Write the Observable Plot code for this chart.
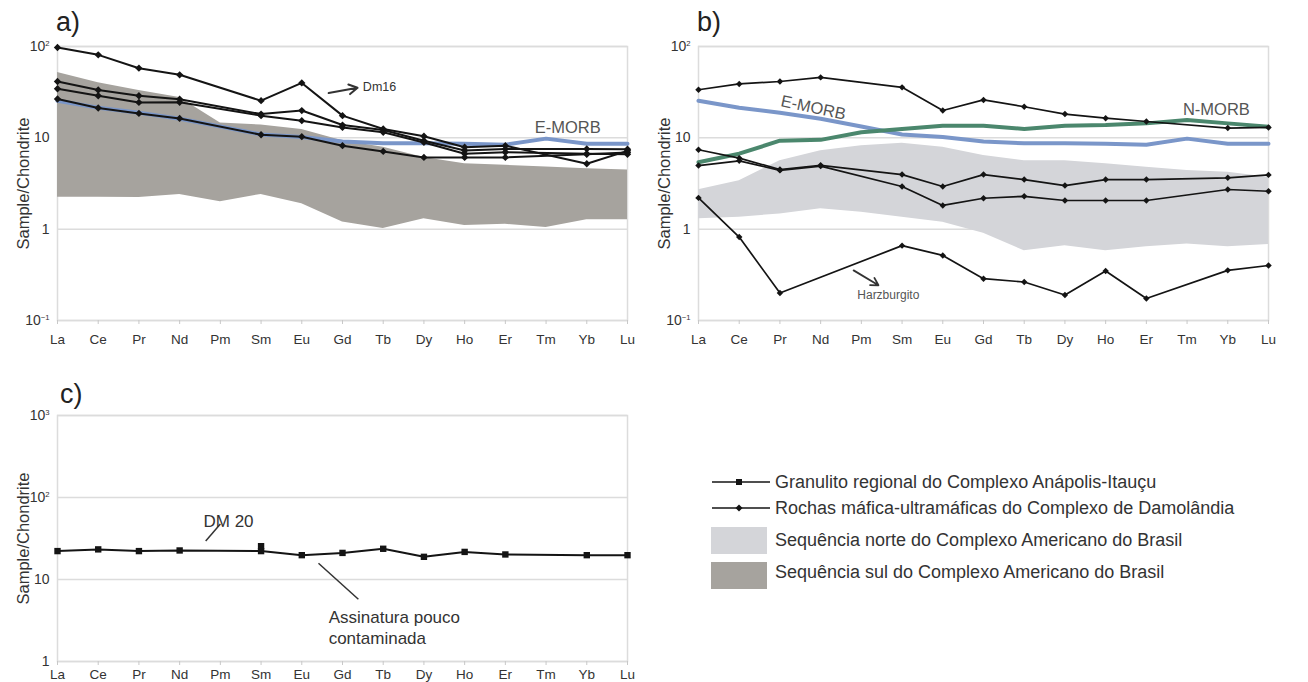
<!DOCTYPE html>
<html>
<head>
<meta charset="utf-8">
<script src="https://cdn.jsdelivr.net/npm/d3@7"></script>
<script src="https://cdn.jsdelivr.net/npm/@observablehq/plot@0.6"></script>
<style>
  body { margin: 0; background: #fff; font-family: "Liberation Sans", Arial, sans-serif; }
  #fig { position: relative; width: 1308px; height: 682px; overflow: hidden; background: #fff; }
  .panel { position: absolute; }
  .panel svg { overflow: visible; }
  .panel svg [aria-label="y-axis label"] text { font-size: 16.5px; fill: #333; }
  .tag { position: absolute; font-size: 27px; color: #222; line-height: 1; }
  .leg-text { position: absolute; font-size: 18px; color: #333; line-height: 1; white-space: nowrap; transform: translateY(-50%); }
  .leg-sym { position: absolute; }
</style>
</head>
<body>
<div id="fig">
  <div class="tag" style="left:56px;top:9px;">a)</div>
  <div class="tag" style="left:697px;top:9px;">b)</div>
  <div class="tag" style="left:60px;top:381px;">c)</div>
  <div id="pa" class="panel" style="left:0;top:0;"></div>
  <div id="pb" class="panel" style="left:640px;top:0;"></div>
  <div id="pc" class="panel" style="left:0;top:360px;"></div>
  <div id="legend"></div>
</div>
<script>
// Rare-earth elements, chondrite-normalised (null = not analysed)
const elements = ["La","Ce","Pr","Nd","Pm","Sm","Eu","Gd","Tb","Dy","Ho","Er","Tm","Yb","Lu"];

// Reference basalts
const eMorb = [25.5, 21.4, 18.8, 16.2, 13.3, 10.9, 10.2, 9.1, 8.7, 8.7, 8.6, 8.4, 9.8, 8.6, 8.6];
const nMorb = [5.4, 6.7, 9.3, 9.5, 11.5, 12.5, 13.6, 13.6, 12.5, 13.6, 13.8, 14.4, 15.7, 14.4, 13.2];

// a) Damolândia mafic-ultramafic rocks vs. southern sequence
const dm16   = [97.5, 81, 57.9, 49, null, 25.5, 39.9, 17.5, 12.5, 10.4, 7.9, 8.2, null, 5.2, 7.2];
const aRock2 = [41.4, 33.4, 28.9, 26.5, null, 18.2, 19.9, 13.8, 12.2, 9.3, 7.25, 7.56, null, 7.56, 7.5];
const aRock3 = [34.5, 28.9, 24.4, 24.5, null, 17.5, 15.4, 13.0, 11.5, 8.9, 6.7, 6.95, null, 6.7, 6.6];
const aRock4 = [26.6, 21.2, 18.5, 16.3, null, 10.8, 10.3, 8.2, 7.1, 6.1, 6.1, 6.1, null, 6.6, 6.9];
const sulUpper = [52, 40, 33, 27.7, 14.5, 13.8, 12.3, 9.3, 7.9, 6.1, 5.2, 5.0, 4.8, 4.6, 4.45];
const sulLower = [2.24, 2.24, 2.22, 2.4, 2.0, 2.4, 1.9, 1.2, 1.02, 1.3, 1.1, 1.13, 1.04, 1.27, 1.27];

// b) Damolândia mafic-ultramafic rocks vs. northern sequence
const bRock1 = [33.6, 38.9, 41.4, 45.9, null, 35.7, 19.9, 26, 21.9, 18.2, 16.4, 15.1, null, 12.8, 13.0];
const bRock2 = [7.4, 6.0, 4.5, 5.0, null, 3.96, 2.93, 3.96, 3.49, 3.0, 3.49, 3.49, null, 3.65, 3.93];
const bRock3 = [4.97, 5.6, 4.4, 4.9, null, 2.93, 1.82, 2.18, 2.29, 2.06, 2.06, 2.06, null, 2.72, 2.6];
const harzburgito = [2.2, 0.82, 0.2, null, null, 0.66, 0.516, 0.287, 0.264, 0.19, 0.348, 0.174, null, 0.354, 0.40];
const norteUpper = [2.7, 3.4, 5.6, 7.2, 8.2, 8.7, 7.9, 6.4, 5.6, 5.6, 5.2, 4.76, 4.4, 4.2, 3.7];
const norteLower = [1.3, 1.35, 1.47, 1.67, 1.53, 1.35, 1.19, 0.9, 0.58, 0.66, 0.58, 0.64, 0.69, 0.64, 0.68];

// c) Regional granulite DM 20
const dm20 = [22.2, 23.3, 22.2, 22.6, null, 22.2, 19.8, 21.1, 23.7, 18.9, 21.7, 20.2, null, 19.8, 19.8];
const dm20Repeat = [["Sm", 25.5]];

// Tick labels ("^" marks an exponent)
const ticksAB = [0.1, 1, 10, 100];
const tickLabelsAB = ["10^-1", "1", "10", "10^2"];
const ticksC = [1, 10, 100, 1000];
const tickLabelsC = ["1", "10", "10^2", "10^3"];

const legendItems = [
  "Granulito regional do Complexo Anápolis-Itauçu",
  "Rochas máfica-ultramáficas do Complexo de Damolândia",
  "Sequência norte do Complexo Americano do Brasil",
  "Sequência sul do Complexo Americano do Brasil"
];

const C = {
  ink: "#141414", grid: "#dcdcdc", sul: "#a6a39e", norte: "#d4d5d9",
  eMorb: "#7a96c9", nMorb: "#4b876d", note: "#555"
};
const FONT = '"Liberation Sans", Arial, sans-serif';

const rows = (vals, s) => vals.map((v, i) => ({i, v, s})).filter(d => d.v != null);
const multi = (list) => list.flatMap(([s, vals]) => rows(vals, s));
const band = (lo, hi) => lo.map((l, i) => ({i, lo: l, hi: hi[i]}));

function superscripts(svg) {
  svg.querySelectorAll('[aria-label="y-axis tick label"] text').forEach(t => {
    const s = t.textContent, k = s.indexOf("^");
    if (k < 0) return;
    t.textContent = s.slice(0, k);
    const sup = document.createElementNS("http://www.w3.org/2000/svg", "tspan");
    sup.setAttribute("dy", "-0.6em");
    sup.setAttribute("font-size", "0.55em");
    sup.textContent = s.slice(k + 1).replace("-", "\u2212");
    t.appendChild(sup);
  });
  return svg;
}

function chart({width, height, mt, mb, ml, mr, domain, ticks, labels, xPad, marks}) {
  const svg = Plot.plot({
    width, height,
    marginTop: mt, marginBottom: mb, marginLeft: ml, marginRight: mr,
    style: {fontFamily: FONT, color: "#333", background: "transparent"},
    x: {type: "linear", domain: [0, elements.length - 1]},
    y: {type: "log", domain},
    marks: [
      Plot.gridY(ticks, {stroke: C.grid, strokeOpacity: 1, strokeWidth: 1.5}),
      Plot.frame({stroke: C.grid, strokeWidth: 1.5}),
      ...marks,
      Plot.axisX(d3.range(elements.length), {
        tickFormat: i => elements[i], tickSize: 4, tickPadding: xPad,
        stroke: "#c8c8c8", fontSize: 13.5, label: null
      }),
      Plot.axisY(ticks, {
        tickFormat: v => labels[ticks.indexOf(v)], tickSize: 0, tickPadding: 8,
        fontSize: 14, label: "Sample/Chondrite", labelAnchor: "center",
        labelArrow: "none", labelOffset: 40
      })
    ]
  });
  return superscripts(svg);
}

const rockLine = (data, w) => Plot.line(data, {x: "i", y: "v", z: "s", stroke: C.ink, strokeWidth: w});
const rockDots = (data, r) => Plot.dot(data, {x: "i", y: "v", symbol: "diamond2", fill: C.ink, r});

// Panel a
const aRocks = multi([["dm16", dm16], ["r2", aRock2], ["r3", aRock3], ["r4", aRock4]]);
document.getElementById("pa").append(chart({
  width: 650, height: 355, mt: 46, mb: 35, ml: 57, mr: 23,
  domain: [0.1, 100], ticks: ticksAB, labels: tickLabelsAB, xPad: 10,
  marks: [
    Plot.areaY(band(sulLower, sulUpper), {x: "i", y1: "lo", y2: "hi", fill: C.sul}),
    Plot.line(rows(eMorb), {x: "i", y: "v", stroke: C.eMorb, strokeWidth: 4}),
    rockLine(aRocks, 2),
    rockDots(aRocks, 3.3),
    Plot.arrow([{}], {x1: 6.66, y1: 31, x2: 7.37, y2: 35.3, stroke: "#333", strokeWidth: 2, headLength: 8}),
    Plot.text(["Dm16"], {x: 7.5, y: 36.3, textAnchor: "start", fontSize: 12.5, fill: "#333"}),
    Plot.text(["E-MORB"], {x: 12.53, y: 12.9, fontSize: 16.5, fill: C.note})
  ]
}));

// Panel b
const bRocks = multi([["b1", bRock1], ["b2", bRock2], ["b3", bRock3], ["harz", harzburgito]]);
document.getElementById("pb").append(chart({
  width: 668, height: 355, mt: 46, mb: 35, ml: 58, mr: 40,
  domain: [0.1, 100], ticks: ticksAB, labels: tickLabelsAB, xPad: 10,
  marks: [
    Plot.areaY(band(norteLower, norteUpper), {x: "i", y1: "lo", y2: "hi", fill: C.norte}),
    Plot.line(rows(eMorb), {x: "i", y: "v", stroke: C.eMorb, strokeWidth: 4}),
    Plot.line(rows(nMorb), {x: "i", y: "v", stroke: C.nMorb, strokeWidth: 4}),
    rockLine(bRocks, 1.7),
    rockDots(bRocks, 2.9),
    Plot.text(["E-MORB"], {x: 2.82, y: 21.4, rotate: 12, fontSize: 16.5, fill: C.note}),
    Plot.text(["N-MORB"], {x: 12.72, y: 20.3, fontSize: 16.5, fill: C.note}),
    Plot.arrow([{}], {x1: 3.81, y1: 0.354, x2: 4.42, y2: 0.243, stroke: "#333", strokeWidth: 1.8, headLength: 7}),
    Plot.text(["Harzburgito"], {x: 3.9, y: 0.188, textAnchor: "start", fontSize: 12, fill: C.note})
  ]
}));

// Panel c
document.getElementById("pc").append(chart({
  width: 650, height: 322, mt: 55, mb: 21, ml: 57, mr: 23,
  domain: [1, 1000], ticks: ticksC, labels: tickLabelsC, xPad: 4,
  marks: [
    Plot.line(rows(dm20), {x: "i", y: "v", stroke: C.ink, strokeWidth: 2}),
    Plot.dot(rows(dm20), {x: "i", y: "v", symbol: "square", fill: C.ink, r: 3.6}),
    Plot.dot(dm20Repeat, {x: d => elements.indexOf(d[0]), y: d => d[1], symbol: "square", fill: C.ink, r: 3.6}),
    Plot.link([{}], {x1: 3.64, y1: 29.4, x2: 4.0, y2: 47.4, stroke: "#333", strokeWidth: 1.5}),
    Plot.text(["DM 20"], {x: 4.2, y: 51.6, fontSize: 17, fill: "#333"}),
    Plot.link([{}], {x1: 6.41, y1: 15.8, x2: 7.39, y2: 5.74, stroke: "#333", strokeWidth: 1.5}),
    Plot.text(["Assinatura pouco\ncontaminada"], {x: 6.66, y: 2.63, textAnchor: "start", lineAnchor: "middle", lineHeight: 1.2, fontSize: 17, fill: "#333"})
  ]
}));

// Legend
const legend = document.getElementById("legend");
const rowY = [482, 508, 540, 572];
const ns = "http://www.w3.org/2000/svg";
legendItems.forEach((label, k) => {
  const sym = document.createElementNS(ns, "svg");
  sym.setAttribute("class", "leg-sym");
  if (k < 2) {
    sym.setAttribute("width", 60); sym.setAttribute("height", 12);
    sym.style.left = "712px"; sym.style.top = (rowY[k] - 6) + "px";
    const ln = document.createElementNS(ns, "line");
    ln.setAttribute("x1", 0); ln.setAttribute("x2", 58); ln.setAttribute("y1", 6); ln.setAttribute("y2", 6);
    ln.setAttribute("stroke", C.ink); ln.setAttribute("stroke-width", 1.6);
    sym.append(ln);
    const m = document.createElementNS(ns, "path");
    m.setAttribute("d", k === 0 ? "M24,3h6v6h-6z" : "M27,2.5l3.5,3.5l-3.5,3.5l-3.5,-3.5z");
    m.setAttribute("fill", C.ink);
    sym.append(m);
  } else {
    sym.setAttribute("width", 56); sym.setAttribute("height", 27);
    sym.style.left = "711px"; sym.style.top = (k === 2 ? 527 : 562) + "px";
    const r = document.createElementNS(ns, "rect");
    r.setAttribute("width", 56); r.setAttribute("height", 27);
    r.setAttribute("fill", k === 2 ? C.norte : C.sul);
    sym.append(r);
  }
  legend.append(sym);
  const t = document.createElement("div");
  t.className = "leg-text";
  t.style.left = "775px"; t.style.top = rowY[k] + "px";
  t.textContent = label;
  legend.append(t);
});
</script>
</body>
</html>
